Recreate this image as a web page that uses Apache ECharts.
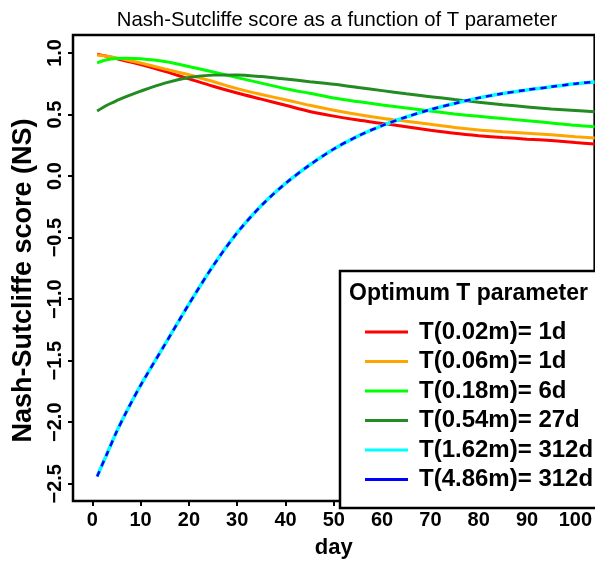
<!DOCTYPE html>
<html>
<head>
<meta charset="utf-8">
<script src="https://cdn.jsdelivr.net/npm/echarts@6/dist/echarts.min.js"></script>
<style>html,body{margin:0;padding:0;background:#fff;}#c{width:595px;height:564px;}</style>
</head>
<body>
<div id="c"></div>
<script>
const days = [1,3,5,7,10,15,20,25,30,35,40,45,50,55,60,65,70,75,80,85,90,95,100,104];
const red = [0.99,0.973,0.955,0.935,0.905,0.85,0.79,0.73,0.675,0.625,0.575,0.525,0.487,0.455,0.428,0.40,0.372,0.347,0.328,0.313,0.30,0.288,0.272,0.26];
const orange = [0.984,0.973,0.96,0.945,0.918,0.87,0.823,0.768,0.71,0.663,0.62,0.575,0.535,0.50,0.47,0.445,0.42,0.395,0.375,0.36,0.348,0.335,0.32,0.31];
const green = [0.92,0.945,0.955,0.958,0.953,0.93,0.89,0.845,0.80,0.755,0.71,0.672,0.634,0.605,0.578,0.553,0.528,0.505,0.485,0.467,0.45,0.432,0.412,0.40];
const darkgreen = [0.528,0.575,0.612,0.645,0.69,0.755,0.80,0.82,0.822,0.808,0.788,0.767,0.746,0.72,0.694,0.668,0.645,0.622,0.60,0.58,0.562,0.545,0.532,0.522];
const cyan = [-2.44,-2.26,-2.08,-1.92,-1.70,-1.37,-1.04,-0.73,-0.46,-0.24,-0.06,0.09,0.22,0.325,0.41,0.48,0.54,0.59,0.635,0.67,0.70,0.725,0.75,0.765];
const blue = [-2.44,-2.26,-2.08,-1.92,-1.70,-1.37,-1.04,-0.73,-0.46,-0.24,-0.06,0.09,0.22,0.325,0.41,0.48,0.54,0.59,0.635,0.67,0.70,0.725,0.75,0.765];
const seriesNames = ['T(0.02m)= 1d','T(0.06m)= 1d','T(0.18m)= 6d','T(0.54m)= 27d','T(1.62m)= 312d','T(4.86m)= 312d'];
const xTicks = [0,10,20,30,40,50,60,70,80,90,100];
const yTicks = [-2.5,-2.0,-1.5,-1.0,-0.5,0.0,0.5,1.0];
const titleText = 'Nash-Sutcliffe score as a function of T parameter';
const legendTitle = 'Optimum T parameter';
const xName = 'day';
const yName = 'Nash-Sutcliffe score (NS)';

const FONT = "'Liberation Sans', Arial, Helvetica, sans-serif";
const colors = ['#FF0000','#FFA500','#00FF00','#228B22','#00FFFF','#0000FF'];
const values = [red, orange, green, darkgreen, cyan, blue];
const widths = [3,3,3,3,3.5,2.5];

const series = values.map((arr, i) => ({
  name: seriesNames[i],
  type: 'line',
  data: days.map((d, j) => [d, arr[j]]),
  showSymbol: false,
  smooth: 0.3,
  color: colors[i],
  itemStyle: {color: colors[i]},
  lineStyle: {color: colors[i], width: widths[i], type: i === 5 ? [6,5] : 'solid', cap: 'butt'},
  emphasis: {disabled: true},
  silent: true,
  z: 2 + i
}));

const chart = echarts.init(document.getElementById('c'), null, {renderer: 'canvas'});
chart.setOption({
  animation: false,
  backgroundColor: '#fff',
  title: [
    {text: titleText, left: 332, top: 5, textAlign: 'center',
     textStyle: {fontFamily: FONT, fontSize: 20.3, fontWeight: 'normal', color: '#000'}},
    {text: legendTitle, left: 344, top: 277,
     textStyle: {fontFamily: FONT, fontSize: 23, fontWeight: 'bold', color: '#000'}}
  ],
  grid: {left: 73, top: 35, right: -10, bottom: 56, show: true, borderColor: '#000', borderWidth: 2.5, backgroundColor: 'transparent'},
  xAxis: {
    type: 'value', min: -4, max: 104,
    name: xName, nameLocation: 'middle', nameGap: 36,
    nameTextStyle: {fontFamily: FONT, fontSize: 22, fontWeight: 'bold', color: '#000'},
    axisLine: {show: false, onZero: false},
    axisTick: {show: true, inside: false, length: 5, customValues: xTicks, lineStyle: {color: '#000', width: 2}},
    axisLabel: {customValues: xTicks, margin: 9, fontFamily: FONT, fontSize: 20, fontWeight: 'bold', color: '#000'},
    splitLine: {show: false}
  },
  yAxis: {
    type: 'value', min: -2.64, max: 1.146,
    name: yName, nameLocation: 'middle', nameGap: 34, nameRotate: 90,
    nameTextStyle: {fontFamily: FONT, fontSize: 27, fontWeight: 'bold', color: '#000', padding: [0, 25, 0, 0]},
    axisLine: {show: false, onZero: false},
    axisTick: {show: true, inside: false, length: 5, customValues: yTicks, lineStyle: {color: '#000', width: 2}},
    axisLabel: {customValues: yTicks, rotate: 90, margin: 8, fontFamily: FONT, fontSize: 20, fontWeight: 'bold', color: '#000',
      formatter: v => v.toFixed(1).replace('-', '\u2212')},
    splitLine: {show: false}
  },
  legend: {
    orient: 'vertical', left: 360, top: 315,
    icon: 'rect', itemWidth: 43, itemHeight: 3, itemGap: 5.5,
    data: seriesNames,
    selectedMode: false,
    textStyle: {fontFamily: FONT, fontSize: 24, fontWeight: 'bold', color: '#000', lineHeight: 24, padding: [0,0,0,6]}
  },
  graphic: [{
    type: 'rect', z: 1,
    shape: {x: 340, y: 271, width: 300, height: 237},
    style: {fill: '#fff', stroke: '#000', lineWidth: 2.5}
  }],
  series: series
});
</script>
</body>
</html>
